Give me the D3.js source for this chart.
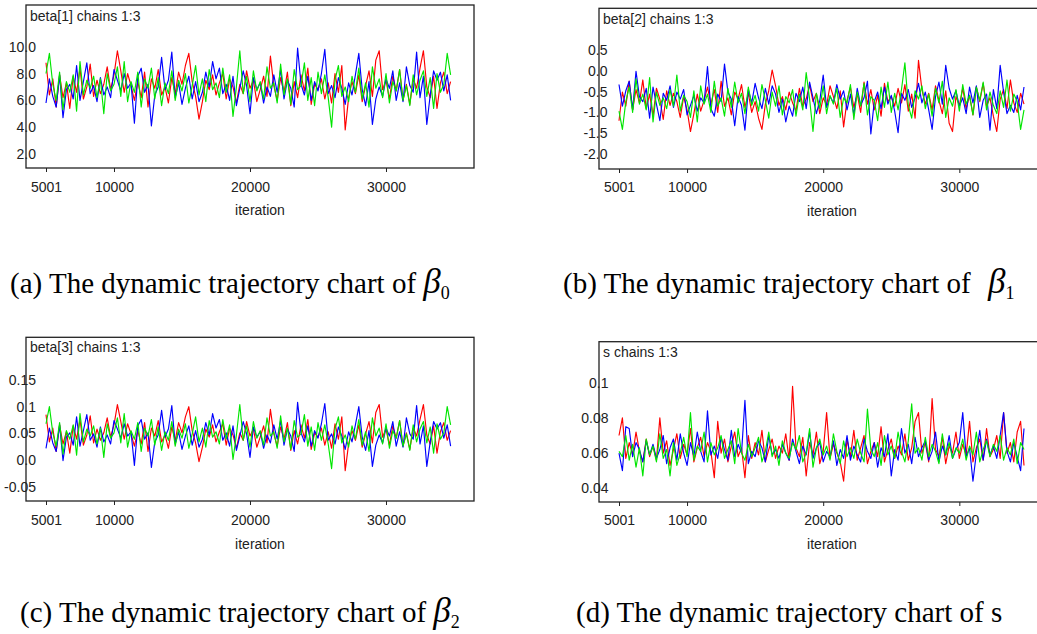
<!DOCTYPE html>
<html>
<head>
<meta charset="utf-8">
<script src="https://cdn.jsdelivr.net/npm/d3@7/dist/d3.min.js"></script>
<style>
  html, body { margin: 0; padding: 0; background: #fff; }
  svg { display: block; }
</style>
</head>
<body>
<svg id="chart" width="1037" height="634"></svg>
<script>
// thinned MCMC samples: every 250th iteration from 5001
const iterations = d3.range(5001, 35001, 250);
const xTicks = [5001, 10000, 20000, 30000];

// beta[1]
const beta1Ticks = [2, 4, 6, 8, 10];
const beta1Labels = ['2.0', '4.0', '6.0', '8.0', '10.0'];
const beta1Chain1 = [
  8.8, 6.4, 7.6, 5.5, 7.9, 6.2, 7.3, 5.4, 7.8, 6.6,
  8.4, 6.1, 7.0, 8.7, 6.3, 7.5, 6.5, 7.2, 8.5, 6.8,
  7.9, 9.7, 8.2, 6.6, 8.0, 7.1, 6.0, 7.4, 6.2, 8.1,
  5.5, 7.6, 6.9, 8.3, 6.4, 7.0, 5.8, 7.7, 6.5, 8.1,
  7.2, 8.6, 9.5, 7.4, 6.3, 4.6, 5.9, 7.5, 6.8, 7.9,
  6.4, 7.3, 8.0, 6.1, 7.6, 7.0, 5.8, 7.2, 6.5, 8.2,
  6.9, 7.5, 5.9, 6.8, 7.8, 6.3, 9.3, 7.1, 6.0, 7.7,
  6.6, 8.1, 5.6, 7.4, 6.2, 7.9, 6.7, 8.4, 5.7, 7.2,
  6.8, 7.6, 6.1, 7.3, 5.8, 8.0, 6.6, 8.6, 3.8, 6.2,
  7.4, 6.5, 7.9, 5.9, 7.1, 8.2, 6.3, 9.0, 9.7, 6.8,
  7.5, 6.1, 7.8, 6.7, 8.3, 6.0, 7.2, 5.7, 7.6, 6.9,
  8.4, 9.7, 7.0, 6.2, 7.8, 5.4, 7.3, 8.1, 6.5, 7.4
];
const beta1Chain2 = [
  5.8, 7.6, 6.3, 5.5, 7.9, 4.7, 6.8, 7.2, 6.1, 8.6,
  6.0, 7.4, 8.8, 6.5, 7.1, 5.9, 7.7, 6.4, 7.0, 6.2,
  8.3, 7.5, 6.7, 8.0, 6.9, 7.3, 4.3, 7.8, 8.4, 6.6,
  7.2, 4.1, 6.4, 7.0, 9.2, 6.8, 7.5, 9.6, 6.2, 7.3,
  5.7, 6.9, 7.8, 6.1, 7.4, 5.9, 6.6, 8.1, 7.0, 8.9,
  7.6, 8.4, 6.5, 7.2, 6.0, 7.8, 5.6, 6.9, 8.2, 7.1,
  5.0, 7.7, 6.8, 7.3, 5.8, 7.0, 6.3, 7.9, 6.6, 8.3,
  6.1, 7.5, 6.9, 5.5, 9.9, 7.2, 6.4, 7.8, 6.0, 7.4,
  6.7, 8.0, 9.8, 6.5, 7.1, 6.2, 7.7, 6.9, 5.7, 7.3,
  6.4, 7.9, 9.5, 6.8, 5.6, 7.4, 4.2, 6.1, 7.0, 6.3,
  7.6, 6.9, 8.2, 6.0, 7.3, 5.9, 8.5, 7.1, 6.6, 9.6,
  6.2, 7.8, 4.2, 6.4, 8.2, 7.5, 8.1, 6.7, 7.9, 6.0
];
const beta1Chain3 = [
  8.0, 9.5, 7.2, 6.0, 8.1, 5.3, 7.4, 6.6, 7.9, 5.2,
  8.9, 6.4, 7.5, 6.9, 7.8, 6.2, 7.6, 5.0, 8.0, 6.7,
  7.2, 8.5, 6.3, 8.9, 5.9, 7.4, 6.6, 8.1, 5.5, 7.6,
  6.9, 8.4, 6.1, 7.7, 5.6, 7.3, 6.5, 8.2, 6.0, 7.5,
  6.7, 8.0, 5.8, 7.1, 8.6, 6.4, 7.6, 5.9, 8.3, 6.8,
  7.3, 6.2, 8.4, 6.6, 7.9, 4.8, 7.0, 9.7, 6.5, 7.8,
  5.9, 8.2, 6.7, 7.4, 6.1, 8.5, 6.9, 7.3, 5.8, 8.7,
  6.4, 7.6, 5.7, 8.3, 6.8, 7.1, 8.8, 6.0, 7.7, 5.6,
  8.1, 6.5, 7.9, 6.2, 4.0, 7.5, 8.6, 6.3, 7.0, 5.9,
  7.8, 6.6, 8.4, 6.1, 7.3, 5.5, 8.5, 6.9, 7.6, 6.2,
  8.0, 5.8, 7.4, 6.7, 8.3, 6.0, 7.1, 5.6, 7.9, 6.4,
  7.5, 8.2, 6.3, 7.7, 5.4, 8.0, 6.6, 7.2, 9.5, 7.9
];

// beta[2]
const beta2Ticks = [-2, -1.5, -1, -0.5, 0, 0.5];
const beta2Labels = ['-2.0', '-1.5', '-1.0', '-0.5', '0.0', '0.5'];
const beta2Chain1 = [
  -1.20, -0.51, -0.85, -0.25, -0.94, -0.45, -0.77, -0.22, -0.91, -0.56,
  -1.09, -0.42, -0.68, -1.17, -0.48, -0.83, -0.54, -0.74, -1.12, -0.62,
  -0.94, -1.46, -1.03, -0.56, -0.97, -0.71, -0.39, -0.80, -0.45, -1.00,
  -0.25, -0.85, -0.65, -1.06, -0.51, -0.68, -0.33, -0.88, -0.54, -1.00,
  -0.74, -1.14, -1.41, -0.80, -0.48, 0.02, -0.36, -0.83, -0.62, -0.94,
  -0.51, -0.77, -0.97, -0.42, -0.85, -0.68, -0.33, -0.74, -0.54, -1.03,
  -0.65, -0.83, -0.36, -0.62, -0.91, -0.48, -1.35, -0.71, -0.39, -0.88,
  -0.56, -1.00, -0.27, -0.80, -0.45, -0.94, -0.59, -1.09, -0.30, -0.74,
  -0.62, -0.85, -0.42, -0.77, -0.33, -0.97, -0.56, -1.14, 0.25, -0.45,
  -0.80, -0.54, -0.94, -0.36, -0.71, -1.03, -0.48, -1.26, -1.46, -0.62,
  -0.83, -0.42, -0.91, -0.59, -1.06, -0.39, -0.74, -0.30, -0.85, -0.65,
  -1.09, -1.46, -0.68, -0.45, -0.91, -0.22, -0.77, -1.00, -0.54, -0.80
];
const beta2Chain2 = [
  -0.33, -0.85, -0.48, -0.25, -0.94, -0.01, -0.62, -0.74, -0.42, -1.14,
  -0.39, -0.80, -1.20, -0.54, -0.71, -0.36, -0.88, -0.51, -0.68, -0.45,
  -1.06, -0.83, -0.59, -0.97, -0.65, -0.77, 0.10, -0.91, -1.09, -0.56,
  -0.74, 0.16, -0.51, -0.68, -1.32, -0.62, -0.83, -1.43, -0.45, -0.77,
  -0.30, -0.65, -0.91, -0.42, -0.80, -0.36, -0.56, -1.00, -0.68, -1.23,
  -0.85, -1.09, -0.54, -0.74, -0.39, -0.91, -0.27, -0.65, -1.03, -0.71,
  -0.10, -0.88, -0.62, -0.77, -0.33, -0.68, -0.48, -0.94, -0.56, -1.06,
  -0.42, -0.83, -0.65, -0.25, -1.52, -0.74, -0.51, -0.91, -0.39, -0.80,
  -0.59, -0.97, -1.49, -0.54, -0.71, -0.45, -0.88, -0.65, -0.30, -0.77,
  -0.51, -0.94, -1.41, -0.62, -0.27, -0.80, 0.13, -0.42, -0.68, -0.48,
  -0.85, -0.65, -1.03, -0.39, -0.77, -0.36, -1.12, -0.71, -0.56, -1.43,
  -0.45, -0.91, 0.13, -0.51, -1.03, -0.83, -1.00, -0.59, -0.94, -0.39
];
const beta2Chain3 = [
  -0.97, -1.41, -0.74, -0.39, -1.00, -0.19, -0.80, -0.56, -0.94, -0.16,
  -1.23, -0.51, -0.83, -0.65, -0.91, -0.45, -0.85, -0.10, -0.97, -0.59,
  -0.74, -1.12, -0.48, -1.23, -0.36, -0.80, -0.56, -1.00, -0.25, -0.85,
  -0.65, -1.09, -0.42, -0.88, -0.27, -0.77, -0.54, -1.03, -0.39, -0.83,
  -0.59, -0.97, -0.33, -0.71, -1.14, -0.51, -0.85, -0.36, -1.06, -0.62,
  -0.77, -0.45, -1.09, -0.56, -0.94, -0.04, -0.68, -1.46, -0.54, -0.91,
  -0.36, -1.03, -0.59, -0.80, -0.42, -1.12, -0.65, -0.77, -0.33, -1.17,
  -0.51, -0.85, -0.30, -1.06, -0.62, -0.71, -1.20, -0.39, -0.88, -0.27,
  -1.00, -0.54, -0.94, -0.45, 0.19, -0.83, -1.14, -0.48, -0.68, -0.36,
  -0.91, -0.56, -1.09, -0.42, -0.77, -0.25, -1.12, -0.65, -0.85, -0.45,
  -0.97, -0.33, -0.80, -0.59, -1.06, -0.39, -0.71, -0.27, -0.94, -0.51,
  -0.83, -1.03, -0.48, -0.88, -0.22, -0.97, -0.56, -0.74, -1.41, -0.94
];

// beta[3]
const beta3Ticks = [-0.05, 0, 0.05, 0.1, 0.15];
const beta3Labels = ['-0.05', '0.0', '0.05', '0.1', '0.15'];
const beta3Chain1 = [
  0.085, 0.034, 0.060, 0.016, 0.066, 0.030, 0.053, 0.013, 0.064, 0.039,
  0.076, 0.028, 0.047, 0.083, 0.032, 0.058, 0.037, 0.051, 0.079, 0.043,
  0.066, 0.104, 0.072, 0.039, 0.068, 0.049, 0.026, 0.055, 0.030, 0.070,
  0.016, 0.060, 0.045, 0.074, 0.034, 0.047, 0.022, 0.062, 0.037, 0.070,
  0.051, 0.081, 0.100, 0.055, 0.032, -0.003, 0.024, 0.058, 0.043, 0.066,
  0.034, 0.053, 0.068, 0.028, 0.060, 0.047, 0.022, 0.051, 0.037, 0.072,
  0.045, 0.058, 0.024, 0.043, 0.064, 0.032, 0.095, 0.049, 0.026, 0.062,
  0.039, 0.070, 0.018, 0.055, 0.030, 0.066, 0.041, 0.076, 0.020, 0.051,
  0.043, 0.060, 0.028, 0.053, 0.022, 0.068, 0.039, 0.081, -0.020, 0.030,
  0.055, 0.037, 0.066, 0.024, 0.049, 0.072, 0.032, 0.089, 0.104, 0.043,
  0.058, 0.028, 0.064, 0.041, 0.074, 0.026, 0.051, 0.020, 0.060, 0.045,
  0.076, 0.104, 0.047, 0.030, 0.064, 0.013, 0.053, 0.070, 0.037, 0.055
];
const beta3Chain2 = [
  0.022, 0.060, 0.032, 0.016, 0.066, -0.001, 0.043, 0.051, 0.028, 0.081,
  0.026, 0.055, 0.085, 0.037, 0.049, 0.024, 0.062, 0.034, 0.047, 0.030,
  0.074, 0.058, 0.041, 0.068, 0.045, 0.053, -0.010, 0.064, 0.076, 0.039,
  0.051, -0.014, 0.034, 0.047, 0.093, 0.043, 0.058, 0.102, 0.030, 0.053,
  0.020, 0.045, 0.064, 0.028, 0.055, 0.024, 0.039, 0.070, 0.047, 0.087,
  0.060, 0.076, 0.037, 0.051, 0.026, 0.064, 0.018, 0.045, 0.072, 0.049,
  0.005, 0.062, 0.043, 0.053, 0.022, 0.047, 0.032, 0.066, 0.039, 0.074,
  0.028, 0.058, 0.045, 0.016, 0.108, 0.051, 0.034, 0.064, 0.026, 0.055,
  0.041, 0.068, 0.106, 0.037, 0.049, 0.030, 0.062, 0.045, 0.020, 0.053,
  0.034, 0.066, 0.100, 0.043, 0.018, 0.055, -0.012, 0.028, 0.047, 0.032,
  0.060, 0.045, 0.072, 0.026, 0.053, 0.024, 0.079, 0.049, 0.039, 0.102,
  0.030, 0.064, -0.012, 0.034, 0.072, 0.058, 0.070, 0.041, 0.066, 0.026
];
const beta3Chain3 = [
  0.068, 0.100, 0.051, 0.026, 0.070, 0.011, 0.055, 0.039, 0.066, 0.009,
  0.087, 0.034, 0.058, 0.045, 0.064, 0.030, 0.060, 0.005, 0.068, 0.041,
  0.051, 0.079, 0.032, 0.087, 0.024, 0.055, 0.039, 0.070, 0.016, 0.060,
  0.045, 0.076, 0.028, 0.062, 0.018, 0.053, 0.037, 0.072, 0.026, 0.058,
  0.041, 0.068, 0.022, 0.049, 0.081, 0.034, 0.060, 0.024, 0.074, 0.043,
  0.053, 0.030, 0.076, 0.039, 0.066, 0.001, 0.047, 0.104, 0.037, 0.064,
  0.024, 0.072, 0.041, 0.055, 0.028, 0.079, 0.045, 0.053, 0.022, 0.083,
  0.034, 0.060, 0.020, 0.074, 0.043, 0.049, 0.085, 0.026, 0.062, 0.018,
  0.070, 0.037, 0.066, 0.030, -0.016, 0.058, 0.081, 0.032, 0.047, 0.024,
  0.064, 0.039, 0.076, 0.028, 0.053, 0.016, 0.079, 0.045, 0.060, 0.030,
  0.068, 0.022, 0.055, 0.041, 0.074, 0.026, 0.049, 0.018, 0.066, 0.034,
  0.058, 0.072, 0.032, 0.062, 0.013, 0.068, 0.039, 0.051, 0.100, 0.066
];

// s
const sTicks = [0.04, 0.06, 0.08, 0.1];
const sLabels = ['0.04', '0.06', '0.08', '0.1'];
const sChain1 = [
  0.070, 0.080, 0.057, 0.066, 0.059, 0.072, 0.061, 0.055, 0.068, 0.058,
  0.064, 0.056, 0.080, 0.060, 0.067, 0.053, 0.062, 0.071, 0.057, 0.065,
  0.059, 0.074, 0.055, 0.063, 0.069, 0.058, 0.066, 0.061, 0.046, 0.078,
  0.060, 0.068, 0.055, 0.064, 0.072, 0.058, 0.063, 0.046, 0.070, 0.057,
  0.066, 0.059, 0.073, 0.055, 0.062, 0.068, 0.057, 0.064, 0.060, 0.071,
  0.056, 0.098, 0.063, 0.058, 0.069, 0.047, 0.066, 0.059, 0.072, 0.054,
  0.061, 0.083, 0.057, 0.065, 0.060, 0.055, 0.044, 0.068, 0.058, 0.073,
  0.056, 0.063, 0.070, 0.054, 0.061, 0.066, 0.058, 0.075, 0.055, 0.062,
  0.068, 0.057, 0.064, 0.059, 0.071, 0.056, 0.063, 0.078, 0.083, 0.060,
  0.066, 0.055, 0.091, 0.062, 0.058, 0.069, 0.054, 0.064, 0.060, 0.072,
  0.057, 0.065, 0.059, 0.078, 0.055, 0.063, 0.068, 0.056, 0.074, 0.058,
  0.062, 0.070, 0.057, 0.083, 0.060, 0.066, 0.055, 0.072, 0.078, 0.053
];
const sChain2 = [
  0.060, 0.050, 0.075, 0.074, 0.058, 0.066, 0.062, 0.055, 0.067, 0.059,
  0.065, 0.057, 0.062, 0.070, 0.054, 0.063, 0.068, 0.056, 0.071, 0.060,
  0.053, 0.066, 0.058, 0.072, 0.061, 0.055, 0.084, 0.059, 0.064, 0.057,
  0.069, 0.062, 0.056, 0.073, 0.058, 0.065, 0.060, 0.090, 0.054, 0.061,
  0.058, 0.067, 0.063, 0.055, 0.070, 0.059, 0.062, 0.057, 0.065, 0.060,
  0.056, 0.068, 0.061, 0.054, 0.064, 0.059, 0.072, 0.057, 0.063, 0.066,
  0.055, 0.061, 0.058, 0.067, 0.053, 0.062, 0.057, 0.070, 0.056, 0.064,
  0.059, 0.055, 0.068, 0.061, 0.057, 0.066, 0.052, 0.063, 0.058, 0.071,
  0.047, 0.062, 0.056, 0.074, 0.060, 0.065, 0.054, 0.069, 0.058, 0.063,
  0.067, 0.056, 0.061, 0.072, 0.055, 0.064, 0.059, 0.070, 0.057, 0.062,
  0.066, 0.083, 0.058, 0.063, 0.044, 0.060, 0.073, 0.056, 0.068, 0.059,
  0.064, 0.057, 0.070, 0.083, 0.061, 0.055, 0.066, 0.058, 0.050, 0.074
];
const sChain3 = [
  0.061, 0.058, 0.070, 0.056, 0.065, 0.052, 0.063, 0.047, 0.068, 0.059,
  0.064, 0.055, 0.071, 0.057, 0.062, 0.047, 0.066, 0.053, 0.060, 0.069,
  0.058, 0.083, 0.056, 0.064, 0.061, 0.072, 0.055, 0.066, 0.059, 0.063,
  0.070, 0.057, 0.062, 0.067, 0.054, 0.074, 0.060, 0.056, 0.065, 0.058,
  0.063, 0.069, 0.055, 0.061, 0.072, 0.058, 0.064, 0.053, 0.067, 0.060,
  0.057, 0.066, 0.062, 0.070, 0.055, 0.060, 0.074, 0.052, 0.063, 0.068,
  0.059, 0.064, 0.056, 0.071, 0.061, 0.054, 0.067, 0.058, 0.063, 0.057,
  0.068, 0.060, 0.055, 0.085, 0.062, 0.058, 0.066, 0.053, 0.070, 0.059,
  0.064, 0.057, 0.072, 0.061, 0.055, 0.067, 0.088, 0.060, 0.063, 0.056,
  0.069, 0.058, 0.065, 0.061, 0.054, 0.071, 0.059, 0.066, 0.057, 0.063,
  0.060, 0.068, 0.056, 0.064, 0.059, 0.072, 0.055, 0.062, 0.067, 0.058,
  0.065, 0.061, 0.070, 0.056, 0.063, 0.059, 0.068, 0.054, 0.066, 0.062
];

const chainColors = ['#ff0000', '#0000ff', '#00e600'];
const plotFont = '"Liberation Sans", Arial, sans-serif';
const capFont = '"Liberation Serif", "Times New Roman", serif';

// layout of the four trace panels (box = left, top, right, bottom)
const panels = [
  { title: 'beta[1] chains 1:3', chains: [beta1Chain1, beta1Chain2, beta1Chain3],
    ticks: beta1Ticks, labels: beta1Labels, yDomain: [2, 10], yRange: [154, 46.7],
    box: [26, 5, 474, 168], xRange: [46, 454], labelX: 36, titleAt: [30, 21],
    tickBase: 191.5, iterAt: [260, 215] },
  { title: 'beta[2] chains 1:3', chains: [beta2Chain1, beta2Chain2, beta2Chain3],
    ticks: beta2Ticks, labels: beta2Labels, yDomain: [-2, 0.5], yRange: [154, 50],
    box: [599, 8.3, 1045, 169], xRange: [619, 1027.4], labelX: 607.5, titleAt: [603, 23.5],
    tickBase: 191.5, iterAt: [832, 216] },
  { title: 'beta[3] chains 1:3', chains: [beta3Chain1, beta3Chain2, beta3Chain3],
    ticks: beta3Ticks, labels: beta3Labels, yDomain: [-0.05, 0.15], yRange: [486.7, 380],
    box: [26, 337.3, 474, 501], xRange: [46, 454], labelX: 36, titleAt: [30, 352.3],
    tickBase: 525, iterAt: [260, 548.5] },
  { title: 's chains 1:3', chains: [sChain1, sChain2, sChain3],
    ticks: sTicks, labels: sLabels, yDomain: [0.04, 0.1], yRange: [488.3, 382.7],
    box: [599, 341.7, 1045, 502], xRange: [619, 1027.4], labelX: 608.5, titleAt: [603, 356.5],
    tickBase: 525, iterAt: [832, 548.5] }
];

const captions = [
  { text: '(a) The dynamic trajectory chart of ', sym: 'β', sub: '0', x: 10, y: 293, gap: 0 },
  { text: '(b) The dynamic trajectory chart of ', sym: 'β', sub: '1', x: 563, y: 293, gap: 10 },
  { text: '(c) The dynamic trajectory chart of ', sym: 'β', sub: '2', x: 20, y: 622, gap: 0 },
  { text: '(d) The dynamic trajectory chart of s', sym: '', sub: '', x: 576, y: 622, gap: 0 }
];

const svg = d3.select('#chart');

panels.forEach(p => {
  const [l, t, r, b] = p.box;
  const g = svg.append('g');

  const x = d3.scaleLinear().domain([5001, 35000]).range(p.xRange);
  const y = d3.scaleLinear().domain(p.yDomain).range(p.yRange);

  const line = d3.line()
    .x((d, i) => x(iterations[i]))
    .y(d => y(d));

  g.append('g')
    .selectAll('path')
    .data(p.chains)
    .join('path')
    .attr('fill', 'none')
    .attr('stroke', (d, i) => chainColors[i])
    .attr('stroke-width', 1.15)
    .attr('stroke-linejoin', 'round')
    .attr('d', line);

  // y tick labels (no tick marks, labels sit across the frame)
  g.append('g')
    .attr('transform', `translate(${p.labelX},0)`)
    .call(d3.axisLeft(y).tickValues(p.ticks)
      .tickFormat((d, i) => p.labels[i]).tickSize(0).tickPadding(0))
    .call(s => s.select('.domain').remove())
    .attr('font-size', 14)
    .attr('font-family', plotFont)
    .attr('color', '#222');

  // x axis ticks below the frame
  const pad = p.tickBase - b - 4 - 0.71 * 14;
  g.append('g')
    .attr('transform', `translate(0,${b})`)
    .call(d3.axisBottom(x).tickValues(xTicks)
      .tickFormat(d3.format('d')).tickSize(4).tickPadding(pad))
    .call(s => s.select('.domain').remove())
    .attr('font-size', 14)
    .attr('font-family', plotFont)
    .attr('color', '#222');

  g.append('rect')
    .attr('x', l).attr('y', t)
    .attr('width', r - l).attr('height', b - t)
    .attr('fill', 'none')
    .attr('stroke', '#222')
    .attr('stroke-width', 1.3);

  g.append('text')
    .attr('x', p.titleAt[0]).attr('y', p.titleAt[1])
    .attr('font-size', 14).attr('font-family', plotFont)
    .attr('fill', '#222')
    .text(p.title);

  g.append('text')
    .attr('x', p.iterAt[0]).attr('y', p.iterAt[1])
    .attr('text-anchor', 'middle')
    .attr('font-size', 14).attr('font-family', plotFont)
    .attr('fill', '#222')
    .text('iteration');
});

captions.forEach(c => {
  const txt = svg.append('text')
    .attr('x', c.x).attr('y', c.y)
    .attr('font-family', capFont)
    .attr('font-size', 29)
    .attr('fill', '#000')
    .text(c.text);
  if (c.sym) {
    txt.append('tspan')
      .attr('dx', c.gap)
      .attr('font-style', 'italic')
      .attr('font-size', 35)
      .text(c.sym);
    txt.append('tspan')
      .attr('dy', 6)
      .attr('font-size', 18)
      .text(c.sub);
  }
});
</script>
</body>
</html>
